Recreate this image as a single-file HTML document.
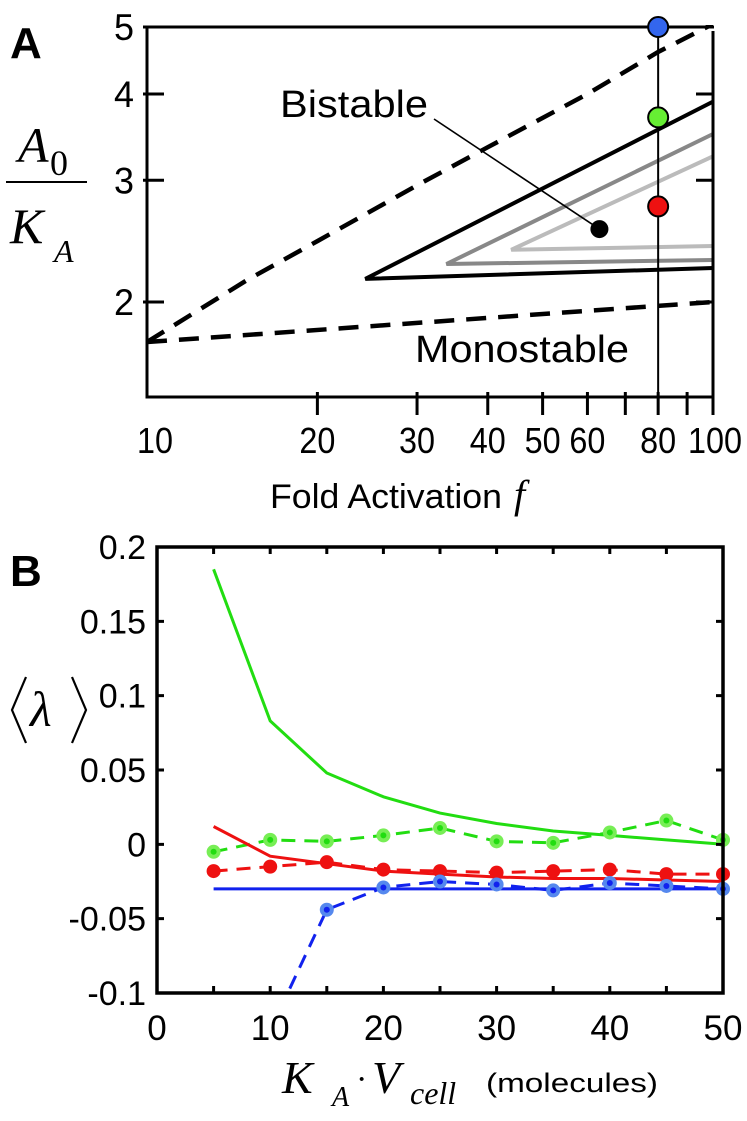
<!DOCTYPE html>
<html><head><meta charset="utf-8"><style>
html,body{margin:0;padding:0;background:#fff;}
svg{display:block;font-family:"Liberation Sans",sans-serif;}
.s{font-family:"Liberation Serif",serif;font-style:italic;}
.u{font-family:"Liberation Serif",serif;font-style:normal;}
</style></head><body>
<svg id="fig" width="747" height="1121" viewBox="0 0 747 1121">
<g id="pa"></g>
<g id="pb"></g>
</svg>
<script>
// ---------- Panel A data ----------
const aXTicks=[10,20,30,40,50,60,70,80,90,100];
const aXLabels=[10,20,30,40,50,60,80,100];
const aYTicks=[2,3,4,5];
const upperDashF=[10,15,20,30,40,60,80,100];
const upperDashY=[1.75,2.15,2.45,2.95,3.35,4.0,4.6,5.05];
const lowerDashF=[10,100];
const lowerDashY=[1.75,2.0];
const blackF=[100,24.3,100];
const blackY=[3.9,2.16,2.24];
const darkF=[100,33.8,100];
const darkY=[3.5,2.27,2.30];
const lightF=[100,44,100];
const lightY=[3.25,2.38,2.41];
const dotF=[80,80,80];
const dotY=[5.0,3.7,2.75];
const dotColors=["#3366ee","#66ee33","#ee1111"];
const bistableF=[63];
const bistableY=[2.55];

// ---------- Panel B data ----------
const bX=[5,10,15,20,25,30,35,40,45,50];
const greenSolid=[0.185,0.083,0.048,0.032,0.021,0.014,0.009,0.006,0.003,0.0];
const greenDash=[-0.005,0.003,0.002,0.006,0.011,0.002,0.001,0.008,0.016,0.003];
const redSolid=[0.012,-0.008,-0.013,-0.018,-0.020,-0.022,-0.023,-0.023,-0.024,-0.025];
const redDash=[-0.018,-0.015,-0.012,-0.017,-0.018,-0.019,-0.018,-0.017,-0.020,-0.020];
const blueSolid=[-0.03,-0.03,-0.03,-0.03,-0.03,-0.03,-0.03,-0.03,-0.03,-0.03];
const blueDashX=[10,15,20,25,30,35,40,45,50];
const blueDash=[-0.125,-0.044,-0.029,-0.025,-0.027,-0.031,-0.026,-0.028,-0.030];
const bXTicks=[0,10,20,30,40,50];
const bYTicks=[-0.1,-0.05,0,0.05,0.1,0.15,0.2];
const bYLabels=["-0.1","-0.05","0","0.05","0.1","0.15","0.2"];

const NS="http://www.w3.org/2000/svg";
function mk(parent,tag,attrs,text){const e=document.createElementNS(NS,tag);for(const k in attrs)e.setAttribute(k,attrs[k]);if(text!==undefined)e.textContent=text;parent.appendChild(e);return e;}

// ===== Panel A =====
const pa=document.getElementById('pa');
const AL=147,AR=713,AT=27,AB=397;
const ax=f=>AL+Math.log10(f/10)*(AR-AL);
const ay=v=>AT+Math.log10(5/v)*691;
function polyA(F,Y){return F.map((f,i)=>ax(f).toFixed(1)+","+ay(Y[i]).toFixed(1)).join(" ");}
let e;
e=mk(pa,'clipPath',{id:'clipA'});mk(e,'rect',{x:AL,y:AT-2,width:AR-AL,height:AB-AT+2});
e=mk(pa,'polyline',{points:polyA(upperDashF,upperDashY),fill:'none',stroke:'#000','stroke-width':4.5,'stroke-dasharray':'20 12','clip-path':'url(#clipA)'});

e=mk(pa,'polyline',{points:polyA(lowerDashF,lowerDashY),fill:'none',stroke:'#000','stroke-width':4.5,'stroke-dasharray':'20 12'});

e=mk(pa,'polyline',{points:polyA(lightF,lightY),fill:'none',stroke:'#bbb','stroke-width':4});

e=mk(pa,'polyline',{points:polyA(darkF,darkY),fill:'none',stroke:'#888','stroke-width':4});

e=mk(pa,'polyline',{points:polyA(blackF,blackY),fill:'none',stroke:'#000','stroke-width':4});

e=mk(pa,'path',{d:`M${AL},${AT} H${AR+1} M${AR},${AT+4} V${AB} M${AL},${AT} V${AB} H${AR}`,fill:'none',stroke:'#000','stroke-width':3});

aYTicks.forEach(v=>{const y=ay(v);
 e=mk(pa,'path',{d:`M${AL-4},${y} H${AL+17} M${AR-17},${y} H${AR}`,stroke:'#000','stroke-width':3});
 
 e=mk(pa,'text',{x:134,y:y+13,'font-size':37,'text-anchor':'end','textLength':20,'lengthAdjust':'spacingAndGlyphs'},String(v));
 });
aXTicks.forEach(f=>{if(f===10)return;const x=ax(f);
 e=mk(pa,'line',{x1:x,y1:AB-5,x2:x,y2:AB+18,stroke:'#000','stroke-width':3});
 });
aXLabels.forEach(f=>{let x=ax(f);if(f===10)x+=8;if(f===100)x+=2;
 e=mk(pa,'text',{x:x,y:453,'font-size':36,'text-anchor':'middle','textLength':f===100?54:36,'lengthAdjust':'spacingAndGlyphs'},String(f));
 });
e=mk(pa,'line',{x1:ax(80),y1:AT,x2:ax(80),y2:AB+18,stroke:'#000','stroke-width':2});

dotF.forEach((f,i)=>{e=mk(pa,'circle',{cx:ax(f),cy:ay(dotY[i]),r:10,fill:dotColors[i],stroke:'#000','stroke-width':2});
 });
e=mk(pa,'line',{x1:434,y1:119,x2:ax(bistableF[0]),y2:ay(bistableY[0]),stroke:'#000','stroke-width':1.6});

e=mk(pa,'circle',{cx:ax(bistableF[0]),cy:ay(bistableY[0]),r:9,fill:'#000'});

e=mk(pa,'text',{x:280,y:117,'font-size':38,'textLength':148,'lengthAdjust':'spacingAndGlyphs'},'Bistable');

e=mk(pa,'text',{x:415,y:362,'font-size':38,'textLength':214,'lengthAdjust':'spacingAndGlyphs'},'Monostable');

e=mk(pa,'text',{x:10,y:58,'font-size':44,'font-weight':'bold'},'A');

e=mk(pa,'text',{x:270,y:508,'font-size':34,'textLength':232,'lengthAdjust':'spacingAndGlyphs'},'Fold Activation');

e=mk(pa,'text',{x:514,y:508,'font-size':40,'class':'s'},'f');

e=mk(pa,'text',{x:18,y:162,'font-size':50,'class':'s'},'A');

mk(pa,'text',{x:50,y:175,'font-size':36,'class':'u'},'0');
e=mk(pa,'line',{x1:6,y1:182,x2:87,y2:182,stroke:'#000','stroke-width':2});

e=mk(pa,'text',{x:10,y:243,'font-size':50,'class':'s'},'K');

mk(pa,'text',{x:54,y:262,'font-size':32,'class':'s'},'A');

// ===== Panel B =====
const pb=document.getElementById('pb');
const BL=157,BR=723,BT=547,BB=993;
const bx=v=>BL+v/50*(BR-BL);
const by=v=>BB-(v+0.1)/0.3*(BB-BT);
function polyB(X,Y){return X.map((x,i)=>bx(x).toFixed(1)+","+by(Y[i]).toFixed(1)).join(" ");}
e=mk(pb,'clipPath',{id:'clipB'});mk(e,'rect',{x:BL,y:BT,width:BR-BL,height:BB-BT});
function series(X,Y,color,dash,name,markers,mcol){
 const l=mk(pb,'polyline',{points:polyB(X,Y),fill:'none',stroke:color,'stroke-width':3,'clip-path':'url(#clipB)'});
 if(dash)l.setAttribute('stroke-dasharray','14 9');
 
 
 if(markers){X.forEach((x,i)=>{if(Y[i]<-0.1)return;
  const c=mk(pb,'circle',{cx:bx(x),cy:by(Y[i]),r:7,fill:mcol});
  
  
  if(markers==='dot'){mk(pb,'circle',{cx:bx(x),cy:by(Y[i]),r:3,fill:color});}});}
}
series(bX,greenSolid,'#22dd11',false,'green-simulation-line');
series(bX,greenDash,'#22dd11',true,'green-dashed-line','dot','#77ee55');
series(bX,redSolid,'#ee1111',false,'red-simulation-line');
series(bX,redDash,'#ee1111',true,'red-dashed-line','plain','#ee1111');
series(bX,blueSolid,'#1122ee',false,'blue-simulation-line');
series(blueDashX,blueDash,'#1122ee',true,'blue-dashed-line','dot','#5588ee');
e=mk(pb,'rect',{x:BL,y:BT,width:BR-BL,height:BB-BT,fill:'none',stroke:'#000','stroke-width':3.5});

for(let v=5;v<50;v+=5){const x=bx(v);
 e=mk(pb,'path',{d:`M${x},${BB} V${BB-7} M${x},${BT} V${BT+7}`,stroke:'#000','stroke-width':3});
 }
bYTicks.forEach((v,i)=>{const y=by(v);
 e=mk(pb,'path',{d:`M${BL},${y} H${BL+7} M${BR},${y} H${BR-7}`,stroke:'#000','stroke-width':3});
 
 e=mk(pb,'text',{x:146,y:y+12,'font-size':34,'text-anchor':'end'},bYLabels[i]);
 });
bXTicks.forEach(v=>{
 e=mk(pb,'text',{x:bx(v),y:1040,'font-size':35,'text-anchor':'middle'},String(v));
 });
e=mk(pb,'text',{x:10,y:586,'font-size':44,'font-weight':'bold'},'B');

e=mk(pb,'path',{d:'M26,677 L12,710 L26,743 M72,677 L86,710 L72,743',fill:'none',stroke:'#000','stroke-width':2.2});

e=mk(pb,'text',{x:30,y:726,'font-size':50,'class':'s'},'λ');

e=mk(pb,'text',{x:282,y:1093,'font-size':46,'class':'s'},'K');

mk(pb,'text',{x:332,y:1106,'font-size':28,'class':'s'},'A');
mk(pb,'text',{x:356,y:1090,'font-size':34,'class':'u'},'·');
mk(pb,'text',{x:372,y:1093,'font-size':46,'class':'s'},'V');
mk(pb,'text',{x:410,y:1104,'font-size':32,'class':'s'},'cell');
e=mk(pb,'text',{x:486,y:1092,'font-size':27,'textLength':172,'lengthAdjust':'spacingAndGlyphs'},'(molecules)');

</script>
</body></html>
